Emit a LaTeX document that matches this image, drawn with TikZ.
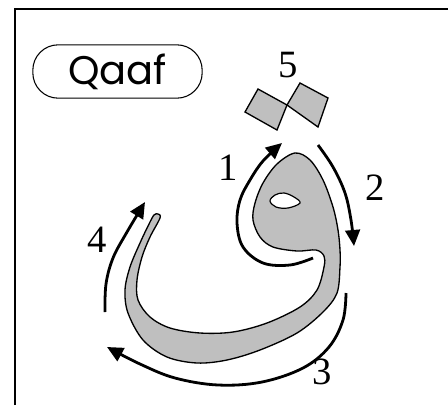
\documentclass[tikz,border=0pt]{standalone}
\usepackage{fontspec}
\newfontfamily\qfont{Poppins}
\newfontfamily\numfont{Liberation Serif}
\usetikzlibrary{arrows.meta}
\tikzset{
  frameline/.style={line width=1.6pt},
  stroke/.style={line width=2.1pt,-{Triangle[length=12pt,width=11pt]}},
  letter/.style={fill=gray!50,draw=black,line width=1pt},
  num/.style={font=\numfont\fontsize{29}{32}\selectfont,inner sep=0pt},
  titlebox/.style={draw,line width=0.8pt,rounded corners=19pt,minimum width=127pt,minimum height=40pt,font=\qfont\fontsize{30}{33}\selectfont}
}
\begin{document}
\begin{tikzpicture}[x=0.75pt,y=-0.75pt]
\useasboundingbox (0,0) rectangle (448,414);
% frame
\coordinate (fbl) at (15,405);
\coordinate (ftl) at (15,9);
\coordinate (ftr) at (448,9);
\draw[frameline] (fbl) -- (ftl) -- (ftr);
% title
\node[titlebox] (title) at (117.5,71.5) {Qaaf};
% dots (two squares)
\filldraw[letter] (245,112) -- (258,89) -- (287,105) -- (277,130) -- cycle;
\filldraw[letter] (287,105) -- (300,83) -- (328,98) -- (318,127) -- cycle;
% letter body
\filldraw[letter] plot[smooth cycle,tension=0.55] coordinates {
 (295,153) (310,160) (323,180) (333,207) (338,230) (340,250) (340,267)
 (337,293) (323,312) (297,333) (260,350) (227,360) (197,363) (167,357)
 (143,340) (128,313) (125,290) (130,267) (140,243) (149,224) (154,215)
 (158,214) (160,218) (150,237) (142,257) (137,280) (138,300) (150,317)
 (170,328) (200,333) (233,332) (267,323) (300,307) (317,290) (324,267)
 (324,256) (316,250) (297,251) (273,247) (260,237) (253,220) (255,203)
 (263,183) (277,164)};
% hole
\filldraw[fill=white,draw=black,line width=0.9pt] plot[smooth cycle,tension=0.6] coordinates {
 (270,201) (275,195) (284,193) (294,197) (300,203) (288,208) (276,207)};
% arrows
\coordinate (a1s) at (313,258);
\coordinate (a1e) at (282,143);
\draw[stroke] plot[smooth,tension=0.6] coordinates {(a1s) (290,265) (263,263) (243,247) (237,223) (240,200) (250,180) (263,161) (a1e)};
\coordinate (a2s) at (318,145);
\coordinate (a2e) at (354,246);
\draw[stroke] plot[smooth,tension=0.6] coordinates {(a2s) (333,167) (345,193) (351,220) (a2e)};
\coordinate (a3s) at (346,293);
\coordinate (a3e) at (107,347);
\draw[stroke] plot[smooth,tension=0.6] coordinates {(a3s) (343,320) (329,347) (303,368) (262,382) (218,385) (175,378) (140,364) (a3e)};
\coordinate (a4s) at (105,312);
\coordinate (a4e) at (145,202);
\draw[stroke] plot[smooth,tension=0.6] coordinates {(a4s) (106,284) (113,258) (127,232) (a4e)};
% numbers
\node[num] (n1) at (228,168) {1};
\node[num] (n2) at (375,188) {2};
\node[num] (n3) at (322,372) {3};
\node[num] (n4) at (97,240) {4};
\node[num] (n5) at (288,65) {5};
\end{tikzpicture}
\end{document}
